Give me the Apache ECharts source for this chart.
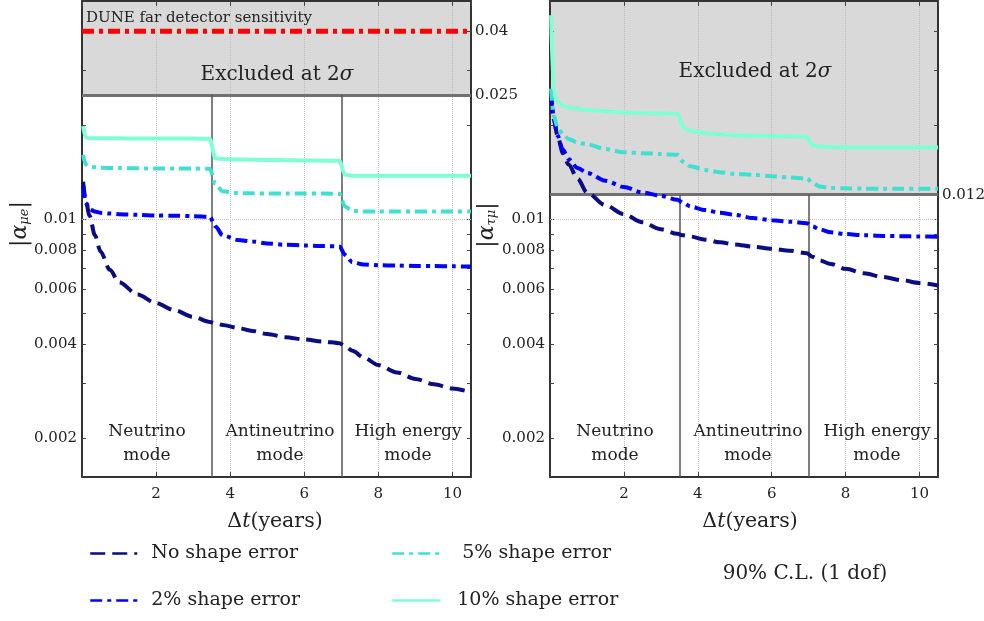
<!DOCTYPE html>
<html>
<head>
<meta charset="utf-8">
<script src="https://cdn.jsdelivr.net/npm/echarts@6/dist/echarts.min.js"></script>
<style>
  html, body { margin: 0; background: #fff; }
  #chart { width: 984px; height: 621px; }
</style>
</head>
<body>
<div id="chart"></div>
<script>
// exposure time in years (shared sampling for all curves)
const years = [0.03, 0.1, 0.2, 0.35, 0.5, 0.75, 1, 1.5, 2, 2.5, 3, 3.45, 3.6, 3.8, 4.2, 4.6, 5, 5.5, 6, 6.5, 6.95, 7.1, 7.3, 7.6, 8, 8.5, 9, 9.5, 10, 10.5]

// |alpha_mu e| limits (left panel)
const muENoShape = [0.0132, 0.0116, 0.0103, 0.0089, 0.0079, 0.0069, 0.0063, 0.00575, 0.0054, 0.00512, 0.00488, 0.0047, 0.00465, 0.0046, 0.0045, 0.0044, 0.0043, 0.0042, 0.00413, 0.00407, 0.00402, 0.00393, 0.0038, 0.00362, 0.00342, 0.00324, 0.00309, 0.00297, 0.00288, 0.0028]
const muEShape2 = [0.0128, 0.0113, 0.0108, 0.0106, 0.0105, 0.01045, 0.0104, 0.01035, 0.0103, 0.01028, 0.01025, 0.0102, 0.0095, 0.0089, 0.0086, 0.0085, 0.00838, 0.0083, 0.00826, 0.00822, 0.0082, 0.0077, 0.0073, 0.00718, 0.00714, 0.00712, 0.0071, 0.0071, 0.00708, 0.00707]
const muEShape5 = [0.0161, 0.015, 0.01475, 0.0147, 0.01465, 0.0146, 0.0146, 0.01458, 0.01456, 0.01455, 0.01455, 0.01453, 0.013, 0.0123, 0.01215, 0.01212, 0.0121, 0.0121, 0.0121, 0.0121, 0.01208, 0.011, 0.01065, 0.0106, 0.0106, 0.0106, 0.0106, 0.0106, 0.0106, 0.0106]
const muEShape10 = [0.0199, 0.0183, 0.0182, 0.0182, 0.0182, 0.0182, 0.01818, 0.01816, 0.01815, 0.01815, 0.01815, 0.01812, 0.0157, 0.0156, 0.01556, 0.01553, 0.0155, 0.01548, 0.01545, 0.01542, 0.0154, 0.0139, 0.0138, 0.0138, 0.0138, 0.0138, 0.0138, 0.0138, 0.0138, 0.0138]

// |alpha_tau mu| limits (right panel)
const tauMuNoShape = [0.0245, 0.021, 0.0186, 0.0163, 0.015, 0.0135, 0.0122, 0.0111, 0.0104, 0.0098, 0.0093, 0.009, 0.0089, 0.00882, 0.00862, 0.00845, 0.00832, 0.00818, 0.00806, 0.00794, 0.0078, 0.0076, 0.0074, 0.0072, 0.00695, 0.00673, 0.00655, 0.0064, 0.00626, 0.00615]
const tauMuShape2 = [0.0255, 0.021, 0.0186, 0.0167, 0.0156, 0.0146, 0.0141, 0.0133, 0.0127, 0.0122, 0.0119, 0.01156, 0.0113, 0.011, 0.01072, 0.0105, 0.01035, 0.0101, 0.00995, 0.00983, 0.00973, 0.0095, 0.0093, 0.0091, 0.00898, 0.0089, 0.00886, 0.00884, 0.00882, 0.00881]
const tauMuShape5 = [0.0262, 0.0215, 0.0198, 0.0187, 0.0181, 0.0176, 0.0174, 0.0168, 0.0164, 0.0163, 0.0162, 0.0161, 0.0153, 0.0148, 0.0144, 0.01416, 0.014, 0.0139, 0.01375, 0.01362, 0.01355, 0.0131, 0.01275, 0.01262, 0.01258, 0.01255, 0.01254, 0.01253, 0.01253, 0.01253]
const tauMuShape10 = [0.045, 0.0255, 0.0238, 0.0231, 0.0228, 0.0226, 0.0224, 0.0222, 0.022, 0.0219, 0.02185, 0.0218, 0.0197, 0.0192, 0.0189, 0.01873, 0.0186, 0.01855, 0.0185, 0.01845, 0.0184, 0.0173, 0.0171, 0.01705, 0.017, 0.017, 0.017, 0.017, 0.017, 0.017]

const seriesNames = ['No shape error', '2% shape error', '5% shape error', '10% shape error']
const duneYears = [0, 10.5]
const duneSensitivity = [0.04, 0.04]
const excludedMuE = 0.025
const excludedTauMu = 0.012
const modeEdges = [3.5, 7]
const modeNames = ['Neutrino\nmode', 'Antineutrino\nmode', 'High energy\nmode']
const yLabelTicks = [0.002, 0.004, 0.006, 0.008, 0.01]
const yMinorTicks = [0.002, 0.003, 0.004, 0.005, 0.006, 0.007, 0.008, 0.009, 0.01, 0.02, 0.03, 0.04]
const xRange = [0, 10.5]
const yRange = [0.0015, 0.05]

const serif = 'DejaVu Serif'
const ink = '#222'

const styles = {
    'No shape error': { color: '#0c0c82', width: 4, type: [15, 7] },
    '2% shape error': { color: '#0000ff', width: 4, type: [12, 5, 4, 5] },
    '5% shape error': { color: '#40e0d0', width: 4, type: [12, 5, 4, 5] },
    '10% shape error': { color: '#7fffd4', width: 4, type: 'solid' },
}

const frame = { show: true, onZero: false, lineStyle: { color: '#333', width: 2 } }

const xAxisFor = (gridIndex, position) => ({
    type: 'value',
    gridIndex,
    position,
    z: 2,
    min: xRange[0],
    max: xRange[1],
    interval: 2,
    axisLine: frame,
    axisTick: { show: true, inside: true, length: 5, lineStyle: { color: '#444' } },
    axisLabel: {
        show: position === 'bottom',
        margin: 10,
        fontFamily: serif,
        fontSize: 15,
        color: ink,
        formatter: (v) => (v > 0 && v % 2 === 0 ? String(v) : ''),
    },
    splitLine: {
        show: position === 'bottom',
        lineStyle: { color: '#bdbdbd', type: 'dotted', width: 1 },
    },
})

const yAxisFor = (gridIndex, position) => ({
    type: 'log',
    logBase: 10,
    gridIndex,
    position,
    z: 2,
    min: yRange[0],
    max: yRange[1],
    axisLine: frame,
    axisTick: { show: true, inside: true, length: 4, customValues: yMinorTicks, lineStyle: { color: '#444' } },
    axisLabel: {
        show: position === 'left',
        customValues: yLabelTicks,
        margin: 5,
        fontFamily: serif,
        fontSize: 15,
        color: ink,
        formatter: (v) => String(+(+v).toPrecision(4)),
    },
    splitLine: { show: false },
})

const curve = (name, values, gridIndex) => ({
    name,
    type: 'line',
    xAxisIndex: gridIndex * 2,
    yAxisIndex: gridIndex * 2,
    data: years.map((t, i) => [t, values[i]]),
    symbol: 'none',
    smooth: 0.3,
    smoothMonotone: 'x',
    lineStyle: styles[name],
    itemStyle: { color: styles[name].color },
    z: 5,
})

// grey excluded band, its edge, mode separators, and the 0.01 grid line
const bounds = (gridIndex, limit) => ({
    name: 'bounds' + gridIndex,
    type: 'line',
    xAxisIndex: gridIndex * 2,
    yAxisIndex: gridIndex * 2,
    data: [],
    z: 1,
    silent: true,
    markArea: {
        silent: true,
        itemStyle: { color: '#d9d9d9' },
        data: [[{ yAxis: limit }, { yAxis: yRange[1] }]],
    },
    markLine: {
        silent: true,
        precision: 5,
        symbol: ['none', 'none'],
        data: [
            {
                yAxis: 0.01,
                lineStyle: { color: '#c8c8c8', type: 'dotted', width: 1 },
                label: { show: false },
            },
            {
                yAxis: limit,
                lineStyle: { color: '#707070', type: 'solid', width: 3 },
                label: { show: true, position: 'end', distance: 4, formatter: String(limit), fontFamily: serif, fontSize: 15, color: ink },
            },
            ...modeEdges.map((x) => [
                { coord: [x, yRange[0]], lineStyle: { color: '#555', type: 'solid', width: 1.5 }, label: { show: false } },
                { coord: [x, limit] },
            ]),
        ],
    },
})

const muE = [muENoShape, muEShape2, muEShape5, muEShape10]
const tauMu = [tauMuNoShape, tauMuShape2, tauMuShape5, tauMuShape10]

const series = [
    bounds(0, excludedMuE),
    bounds(1, excludedTauMu),
    ...seriesNames.map((n, i) => curve(n, muE[i], 0)),
    ...seriesNames.map((n, i) => curve(n, tauMu[i], 1)),
    {
        name: 'DUNE far detector sensitivity',
        type: 'line',
        xAxisIndex: 0,
        yAxisIndex: 0,
        data: duneYears.map((t, i) => [t, duneSensitivity[i]]),
        symbol: 'none',
        lineStyle: { color: '#ff0000', width: 5, type: [12, 5, 4, 5] },
        z: 4,
        endLabel: { show: true, formatter: '0.04', distance: 4, fontFamily: serif, fontSize: 15, color: ink },
    },
]

const text = (x, y, str, size, extra) => ({
    type: 'text',
    x,
    y,
    silent: true,
    z: 20,
    style: Object.assign({
        text: str,
        fontFamily: serif,
        fontSize: size,
        fill: ink,
        align: 'center',
        verticalAlign: 'middle',
    }, extra || {}),
})

const sigmaRich = { s: { fontFamily: serif, fontSize: 20, fontStyle: 'italic', fill: ink } }
const tRich = { t: { fontFamily: serif, fontSize: 20.5, fontStyle: 'italic', fill: ink } }
const alphaRich = {
    a: { fontFamily: serif, fontSize: 22, fontStyle: 'italic', fill: ink },
    s: { fontFamily: serif, fontSize: 13, fontStyle: 'italic', fill: ink, verticalAlign: 'bottom', padding: [10, 0, 0, 0] },
}
const modeCentersLeft = [147, 280, 408]
const modeCentersRight = [615, 748, 877]

const graphics = [
    text(86, 18, 'DUNE far detector sensitivity', 15, { align: 'left' }),
    text(277, 75, 'Excluded at 2{s|σ}', 20, { rich: sigmaRich }),
    text(755, 72, 'Excluded at 2{s|σ}', 20, { rich: sigmaRich }),
    ...modeNames.map((m, i) => text(modeCentersLeft[i], 444, m, 17, { lineHeight: 24 })),
    ...modeNames.map((m, i) => text(modeCentersRight[i], 444, m, 17, { lineHeight: 24 })),
    text(275, 522, 'Δ{t|t}(years)', 20.5, { rich: tRich }),
    text(750, 522, 'Δ{t|t}(years)', 20.5, { rich: tRich }),
    text(805, 574, '90% C.L. (1 dof)', 20),
    Object.assign(text(20, 224, '|{a|α}{s|μe}|', 22, { rich: alphaRich }), { rotation: Math.PI / 2 }),
    Object.assign(text(487, 225, '|{a|α}{s|τμ}|', 22, { rich: alphaRich }), { rotation: Math.PI / 2 }),
]

const legendBase = {
    orient: 'vertical',
    top: 539,
    itemWidth: 47,
    itemHeight: 12,
    itemGap: 28,
    lineStyle: { width: 2.5 },
    itemStyle: { color: 'transparent', borderWidth: 0, opacity: 0 },
    selectedMode: false,
}
const legendText = (pad) => ({ fontFamily: serif, fontSize: 19, color: ink, padding: [0, 0, 0, pad] })

const option = {
    animation: false,
    backgroundColor: '#fff',
    grid: [
        { left: 82, top: 1, width: 389, height: 476, backgroundColor: '#fff', show: true, borderWidth: 0 },
        { left: 550, top: 1, width: 388, height: 476, backgroundColor: '#fff', show: true, borderWidth: 0 },
    ],
    xAxis: [xAxisFor(0, 'bottom'), xAxisFor(0, 'top'), xAxisFor(1, 'bottom'), xAxisFor(1, 'top')],
    yAxis: [yAxisFor(0, 'left'), yAxisFor(0, 'right'), yAxisFor(1, 'left'), yAxisFor(1, 'right')],
    legend: [
        Object.assign({}, legendBase, {
            left: 84,
            data: seriesNames.slice(0, 2).map((name) => ({ name, textStyle: legendText(9) })),
        }),
        Object.assign({}, legendBase, {
            left: 386,
            itemWidth: 48,
            data: [
                { name: seriesNames[2], textStyle: legendText(17) },
                { name: seriesNames[3], textStyle: legendText(12) },
            ],
        }),
    ],
    series,
    graphic: graphics,
}

const chart = echarts.init(document.getElementById('chart'))
chart.setOption(option)
</script>
</body>
</html>
